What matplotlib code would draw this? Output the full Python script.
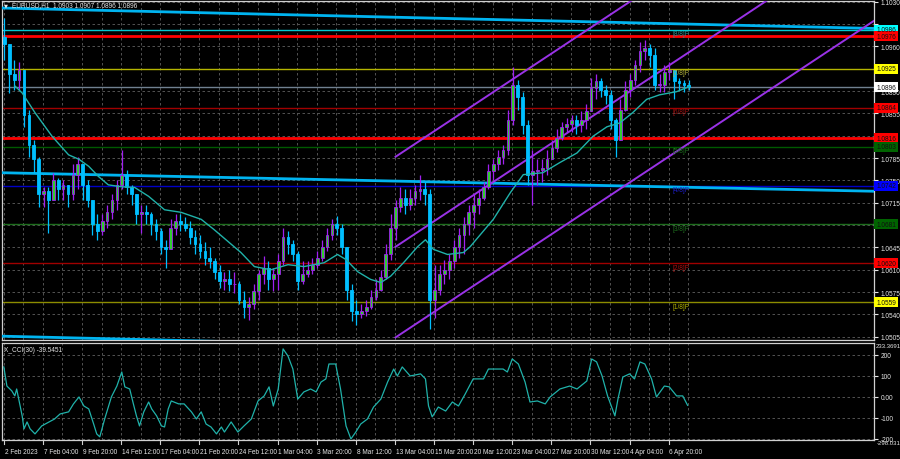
import numpy as np
import matplotlib
matplotlib.use("Agg")
import matplotlib.pyplot as plt
import matplotlib.transforms as mtransforms
from matplotlib import font_manager
from matplotlib.patches import Rectangle

# EURUSD H1 candles, taken in 8-hour columns off the chart
high = [1.1005, 1.0963, 1.0939, 1.0936, 1.0916, 1.0861, 1.0814, 1.0787, 1.0740, 1.0740,
        1.0762, 1.0754, 1.0751, 1.0743, 1.0775, 1.0787, 1.0775, 1.0751, 1.0720, 1.0697,
        1.0697, 1.0712, 1.0728, 1.0751, 1.0798, 1.0767, 1.0743, 1.0728, 1.0712, 1.0712,
        1.0701, 1.0689, 1.0676, 1.0657, 1.0689, 1.0697, 1.0697, 1.0692, 1.0686, 1.0673,
        1.0665, 1.0654, 1.0645, 1.0629, 1.0618, 1.0607, 1.0610, 1.0607, 1.0592, 1.0576,
        1.0567, 1.0587, 1.0610, 1.0631, 1.0623, 1.0613, 1.0634, 1.0676, 1.0670, 1.0657,
        1.0639, 1.0623, 1.0623, 1.0629, 1.0639, 1.0657, 1.0676, 1.0689, 1.0695, 1.0681,
        1.0642, 1.0587, 1.0563, 1.0556, 1.0563, 1.0579, 1.0595, 1.0610, 1.0650, 1.0697,
        1.0720, 1.0739, 1.0736, 1.0736, 1.0743, 1.0759, 1.0748, 1.0736, 1.0618, 1.0618,
        1.0626, 1.0634, 1.0657, 1.0676, 1.0692, 1.0712, 1.0728, 1.0736, 1.0748, 1.0775,
        1.0783, 1.0798, 1.0806, 1.0861, 1.0928, 1.0908, 1.0889, 1.0845, 1.0798, 1.0783,
        1.0783, 1.0798, 1.0814, 1.0830, 1.0842, 1.0848, 1.0853, 1.0853, 1.0858, 1.0869,
        1.0911, 1.0916, 1.0911, 1.0900, 1.0892, 1.0848, 1.0877, 1.0905, 1.0916, 1.0939,
        1.0967, 1.0970, 1.0963, 1.0958, 1.0916, 1.0931, 1.0936, 1.0923, 1.0911, 1.0908, 1.0908]
low = [1.0939, 1.0887, 1.0892, 1.0892, 1.0834, 1.0787, 1.0762, 1.0709, 1.0709, 1.0668,
       1.0720, 1.0720, 1.0720, 1.0709, 1.0720, 1.0736, 1.0720, 1.0709, 1.0665, 1.0657,
       1.0665, 1.0676, 1.0689, 1.0704, 1.0736, 1.0728, 1.0712, 1.0681, 1.0668, 1.0681,
       1.0665, 1.0657, 1.0634, 1.0613, 1.0642, 1.0665, 1.0670, 1.0670, 1.0650, 1.0634,
       1.0629, 1.0618, 1.0613, 1.0595, 1.0582, 1.0579, 1.0576, 1.0574, 1.0556, 1.0535,
       1.0532, 1.0548, 1.0563, 1.0587, 1.0579, 1.0576, 1.0579, 1.0618, 1.0634, 1.0623,
       1.0579, 1.0587, 1.0598, 1.0603, 1.0613, 1.0623, 1.0639, 1.0657, 1.0665, 1.0634,
       1.0563, 1.0529, 1.0524, 1.0535, 1.0538, 1.0548, 1.0563, 1.0576, 1.0595, 1.0626,
       1.0657, 1.0701, 1.0697, 1.0704, 1.0712, 1.0720, 1.0712, 1.0517, 1.0535, 1.0571,
       1.0587, 1.0595, 1.0613, 1.0629, 1.0634, 1.0665, 1.0676, 1.0697, 1.0720, 1.0736,
       1.0751, 1.0767, 1.0775, 1.0790, 1.0837, 1.0861, 1.0822, 1.0743, 1.0712, 1.0743,
       1.0748, 1.0759, 1.0783, 1.0795, 1.0814, 1.0826, 1.0826, 1.0822, 1.0826, 1.0830,
       1.0858, 1.0877, 1.0880, 1.0869, 1.0830, 1.0787, 1.0814, 1.0858, 1.0880, 1.0900,
       1.0920, 1.0939, 1.0927, 1.0892, 1.0889, 1.0889, 1.0908, 1.0877, 1.0892, 1.0889, 1.0892]
close = [1.0963, 1.0916, 1.0908, 1.0923, 1.0853, 1.0806, 1.0783, 1.0728, 1.0733, 1.0720,
         1.0751, 1.0736, 1.0743, 1.0728, 1.0759, 1.0775, 1.0743, 1.0720, 1.0681, 1.0670,
         1.0686, 1.0701, 1.0720, 1.0743, 1.0759, 1.0739, 1.0728, 1.0697, 1.0701, 1.0697,
         1.0681, 1.0670, 1.0645, 1.0642, 1.0676, 1.0686, 1.0681, 1.0676, 1.0661, 1.0650,
         1.0639, 1.0629, 1.0623, 1.0607, 1.0592, 1.0595, 1.0587, 1.0587, 1.0563, 1.0551,
         1.0556, 1.0576, 1.0603, 1.0613, 1.0595, 1.0603, 1.0623, 1.0661, 1.0650, 1.0634,
         1.0592, 1.0603, 1.0610, 1.0618, 1.0629, 1.0645, 1.0665, 1.0681, 1.0676, 1.0645,
         1.0579, 1.0545, 1.0540, 1.0545, 1.0551, 1.0567, 1.0579, 1.0598, 1.0634, 1.0676,
         1.0708, 1.0723, 1.0712, 1.0723, 1.0733, 1.0736, 1.0728, 1.0563, 1.0579, 1.0603,
         1.0610, 1.0623, 1.0645, 1.0665, 1.0681, 1.0701, 1.0712, 1.0723, 1.0739, 1.0764,
         1.0775, 1.0786, 1.0798, 1.0845, 1.0900, 1.0880, 1.0837, 1.0759, 1.0764, 1.0767,
         1.0770, 1.0783, 1.0801, 1.0817, 1.0833, 1.0839, 1.0845, 1.0837, 1.0845, 1.0858,
         1.0895, 1.0905, 1.0892, 1.0884, 1.0845, 1.0814, 1.0861, 1.0892, 1.0908, 1.0931,
         1.0952, 1.0958, 1.0947, 1.0900, 1.0900, 1.0920, 1.0923, 1.0905, 1.0902, 1.0900, 1.0896]
first_open = 1.0975

# moving average (teal line)
ma_bars = [21, 33, 54, 82, 109, 126, 142, 158, 174, 196, 217, 240, 266, 293, 326, 347, 380, 391, 413, 440,
           468, 494, 527, 549, 563, 582, 603, 620, 636, 657, 680, 693, 706, 729, 755, 766, 804, 832, 853, 885,
           913, 941, 967, 990, 1011, 1032, 1055, 1076, 1104, 1125]
ma_vals = [1.0898, 1.0887, 1.0856, 1.0819, 1.0790, 1.0783, 1.0772, 1.0756, 1.0743, 1.0740,
           1.0739, 1.0725, 1.0704, 1.0700, 1.0689, 1.0673, 1.0646, 1.0637, 1.0615, 1.0610,
           1.0618, 1.0615, 1.0621, 1.0634, 1.0626, 1.0607, 1.0595, 1.0590, 1.0600, 1.0621,
           1.0646, 1.0657, 1.0642, 1.0634, 1.0637, 1.0646, 1.0689, 1.0731, 1.0759, 1.0762,
           1.0778, 1.0793, 1.0819, 1.0834, 1.0840, 1.0856, 1.0877, 1.0884, 1.0889, 1.0897]

# CCI(30) lower window
cci_bars = [3, 8, 16, 21, 24, 33, 36, 41, 46, 54, 65, 77, 86, 95, 109, 117, 126, 134, 142, 150,
            155, 160, 168, 179, 188, 196, 201, 209, 215, 220, 225, 232, 240, 245, 253, 261, 266, 272, 277, 289,
            298, 310, 318, 326, 334, 342, 351, 359, 364, 375, 386, 396, 408, 419, 429, 437, 444, 452, 460, 468,
            476, 484, 494, 505, 514, 522, 530, 535, 546, 554, 563, 571, 579, 587, 598, 608, 620, 631, 641, 647,
            655, 668, 685, 693, 698, 704, 714, 726, 737, 747, 758, 771, 788, 796, 820, 827, 835, 845, 856, 864,
            876, 889, 897, 913, 929, 941, 957, 965, 973, 982, 991, 1003, 1008, 1016, 1027, 1035, 1044, 1052, 1063, 1071,
            1084, 1092, 1104, 1114, 1122]
cci_vals = [143, 52, 29, 5, 38, -90, -152, -119, -152, -176, -138, -119, -105, -81, -71, -33, 0, -43, -57, -129,
            -176, -190, -105, 0, 52, 119, 48, 38, -33, -90, -138, -71, -24, -57, -90, -138, -143, -57, -19, -33,
            -33, -71, -105, -71, -129, -143, -176, -143, -167, -119, -167, -138, -105, -19, 5, 48, -43, 38, 229, 195,
            133, -10, 24, 38, 24, 71, 86, 157, 157, 38, -138, -200, -167, -129, -105, -48, -10, 71, 133, 100,
            143, 100, 110, 86, -43, -95, -48, -67, -24, -43, 14, 86, 86, 133, 133, 119, 181, 157, 71, -24,
            -19, -33, 0, 38, 52, 38, 76, 181, 167, 100, 5, -90, -10, 95, 110, 86, 167, 157, 86, 0,
            52, 48, 5, 5, -40]

# horizontal levels: price, line colour, width, label bg
levels = [1.0986, 1.0976, 1.0925, 1.0896, 1.0864, 1.0816, 1.0803, 1.0742, 1.0681, 1.0620, 1.0559]
level_colors = ['#00C8D2', '#FF0000', '#B4B400', '#708090', '#A00000', '#FF0000', '#005A00', '#0000C8', '#1E6E1E', '#A00000', '#8C8C00']
level_widths = [1.0, 2.0, 1.0, 1.0, 1.0, 2.0, 1.0, 1.0, 1.0, 1.0, 1.0]
label_bg = ['#00FFFF', '#FF0000', '#FFFF00', '#FFFFFF', '#FF0000', '#FF0000', '#006400', '#0000FF', '#006400', '#FF0000', '#FFFF00']

murrey_names = ['[8/8]P', '[7/8]P', '[6/8]P', '[5/8]P', '[4/8]P', '[3/8]P', '[2/8]P', '[1/8]P']
murrey_levels = [1.0986, 1.0925, 1.0864, 1.0803, 1.0742, 1.0681, 1.0620, 1.0559]
murrey_colors = ['#2E8C8C', '#B4B43C', '#A01010', '#1E6E1E', '#1E1EC8', '#1E6E1E', '#B01010', '#B4B400']

# trend lines (start bar, start price, end bar, end price)
cyan_lines = [(0, 1.1020, 1427, 1.0988), (0, 1.0762, 1427, 1.0733), (0, 1.0506, 1427, 1.0473)]
channel = [(644, 1.0787, 1427, 1.1283), (644, 1.0646, 1427, 1.1143), (644, 1.0504, 1427, 1.1000)]

date_labels = ["2 Feb 2023", "7 Feb 04:00", "9 Feb 20:00", "14 Feb 12:00", "17 Feb 04:00", "21 Feb 20:00",
               "24 Feb 12:00", "1 Mar 04:00", "3 Mar 20:00", "8 Mar 12:00", "13 Mar 04:00", "15 Mar 20:00",
               "20 Mar 12:00", "23 Mar 04:00", "27 Mar 20:00", "30 Mar 12:00", "4 Apr 04:00", "6 Apr 20:00"]

BULL = '#A020F0'
BEAR = '#00BFFF'
GREEN = '#32CD32'
GRID = '#5F5F5F'
TXT = '#E6E6E6'

# narrow font like the terminal's, if it is there
installed = {f.name for f in font_manager.fontManager.ttflist}
if 'Liberation Sans Narrow' in installed:
    FONT, FS = 'Liberation Sans Narrow', 5.6
else:
    FONT, FS = 'Liberation Sans', 4.7
plt.rcParams['font.family'] = [FONT, 'DejaVu Sans']

fig = plt.figure(figsize=(9, 4.6), dpi=100, facecolor='black')
ax = fig.add_axes([2 / 900, 1 - 341 / 460, 872 / 900, 339 / 460])
cx = fig.add_axes([2 / 900, 1 - 441 / 460, 872 / 900, 97 / 460])

tick_bars = [3] + [67 + 64 * i for i in range(len(date_labels) - 1)]
half_bars = [35 + 64 * i for i in range(len(date_labels))]
for a in (ax, cx):
    a.set_facecolor('black')
    for s in a.spines.values():
        s.set_color('#D0D0D0')
        s.set_linewidth(0.9)
    a.set_xlim(0, 1427)
    a.set_xticks(tick_bars)
    a.set_xticks(half_bars, minor=True)
    a.grid(True, which='both', color=GRID, linestyle=(0, (3, 3)), linewidth=0.6)
    a.set_axisbelow(True)
    a.yaxis.tick_right()
    a.tick_params(axis='y', colors=TXT, labelsize=FS, length=3, pad=2)
    a.tick_params(axis='x', which='both', length=0)

ax.set_ylim(1.0500, 1.1031)
yt = np.arange(1.0505, 1.1032, 0.0035)
ax.set_yticks(yt)
# scale values that sit under a coloured price box are not shown
covered = {'1.0995', '1.0925', '1.0820', '1.0680'}
ax.set_yticklabels(['' if f"{v:.4f}" in covered else f"{v:.4f}" for v in yt])
ax.set_xticklabels([])

# levels
for p, c, w in zip(levels, level_colors, level_widths):
    ax.axhline(p, color=c, lw=w, zorder=2)

# cyan trend lines and purple channel
for x0, y0, x1, y1 in cyan_lines:
    ax.plot([x0, x1], [y0, y1], color='#00B4F0', lw=2.0, zorder=3)
for x0, y0, x1, y1 in channel:
    ax.plot([x0, x1], [y0, y1], color='#9932E6', lw=1.4, zorder=3)

# candles
bars = np.arange(len(close)) * 8 + 4
c_arr = np.array(close)
o_arr = np.concatenate([[first_open], c_arr[:-1]])
h_arr = np.maximum.reduce([np.array(high), o_arr, c_arr])
l_arr = np.minimum.reduce([np.array(low), o_arr, c_arr])
up = c_arr >= o_arr
edge = np.where(up, BULL, BEAR)
ax.vlines(bars, l_arr, h_arr, colors=edge, lw=0.9, zorder=4)
body_lo = np.minimum(o_arr, c_arr)
body_h = np.maximum(np.abs(c_arr - o_arr), 0.00006)
ax.bar(bars, body_h, bottom=body_lo, width=4.5, color=np.where(up, GREEN, BEAR),
       edgecolor=edge, linewidth=0.6, zorder=5)

ax.plot(ma_bars, ma_vals, color='#20B2AA', lw=1.0, zorder=6)

# murrey labels
for name, p, c in zip(murrey_names, murrey_levels, murrey_colors):
    ax.text(1097, p - 0.00062, name, color=c, fontsize=FS, va='center', ha='left', zorder=7)

# price labels on the right scale
trans = mtransforms.blended_transform_factory(ax.transAxes, ax.transData)
box_h = 10 * (1.1031 - 1.0500) / 339
for p, bg in zip(levels, label_bg):
    ax.add_patch(Rectangle((1.0005, p - box_h / 2), 24 / 872, box_h, transform=trans,
                           facecolor=bg, edgecolor='none', clip_on=False, zorder=9))
    ax.text(1.0005 + 12 / 872, p, f"{p:.4f}", transform=trans, color='#101010', fontsize=FS,
            va='center', ha='center', clip_on=False, zorder=10)

fig.text(4 / 900, 1 - 6 / 460, "\u25bc", color=TXT, fontsize=FS - 1, va='center', ha='left',
         family='DejaVu Sans')
fig.text(12 / 900, 1 - 6 / 460, "EURUSD,H1  1.0903 1.0907 1.0896 1.0896", color=TXT,
         fontsize=FS, va='center', ha='left')

# CCI window
cx.set_ylim(-205, 257)
cx.set_yticks([200, 100, 0, -100, -200])
cx.set_yticklabels(['200', '100', '0.00', '-100', '-200'])
cx.plot(cci_bars, cci_vals, color='#20B2AA', lw=0.9, zorder=4)
cx.text(4, 228, "X_CCI(30) -39.5451", color=TXT, fontsize=FS, va='center', ha='left')
fig.text(876 / 900, 1 - 347 / 460, "233.3691", color=TXT, fontsize=FS - 0.4, va='center', ha='left')
fig.text(877 / 900, 1 - 444 / 460, "-298.031", color=TXT, fontsize=FS - 0.4, va='center', ha='left')
cx.set_xticklabels([])
tick_tr = mtransforms.blended_transform_factory(cx.transData, cx.transAxes)
for b, lab in zip(tick_bars, date_labels):
    cx.annotate(lab, xy=(b, 0), xycoords=('data', 'axes fraction'), xytext=(0.5, -8),
                textcoords='offset points', color=TXT, fontsize=FS, ha='left', va='center',
                annotation_clip=False)
    cx.plot([b, b], [0, -0.04], transform=tick_tr, color='#D0D0D0', lw=0.8, clip_on=False)

fig.savefig('out.png', dpi=100, facecolor='black')
